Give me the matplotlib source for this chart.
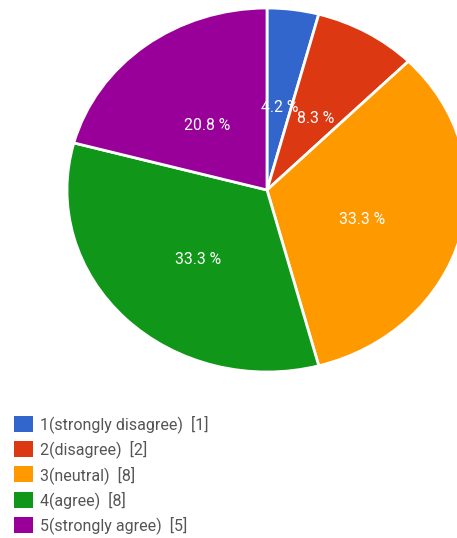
import matplotlib.pyplot as plt

plt.rcParams['font.family'] = ['Roboto', 'DejaVu Sans']

labels = ['1(strongly disagree)', '2(disagree)', '3(neutral)', '4(agree)', '5(strongly agree)']
counts = [1, 2, 8, 8, 5]
colors = ['#3366cc', '#dc3912', '#ff9900', '#109618', '#990099']

W, H = 457, 538
fig = plt.figure(figsize=(W / 100, H / 100), dpi=100)
# pie is slightly stretched horizontally in the reference: centre (267,190), rx 200, ry 182
cx, cy, rx, ry = 267, 190, 200, 182
ax = fig.add_axes([(cx - rx) / W, 1 - (cy + ry) / H, 2 * rx / W, 2 * ry / H])

wedges, texts, autotexts = ax.pie(
    counts, colors=colors, startangle=90, counterclock=False,
    autopct=lambda p: '%.1f %%' % p, pctdistance=0.49,
    wedgeprops=dict(edgecolor='white', linewidth=2),
    textprops=dict(color='white', fontsize=11.3))
# labels sit a little lower in the reference
for t in autotexts:
    x, y = t.get_position()
    t.set_position((x, y - 0.033))
ax.set_xlim(-1, 1)
ax.set_ylim(-1, 1)
ax.set_aspect('auto')

leg_labels = ['%s  [%d]' % (l, c) for l, c in zip(labels, counts)]
leg = fig.legend(wedges, leg_labels, loc='upper left', bbox_to_anchor=(14 / W, 1 - 415 / H),
                 frameon=False, fontsize=11.5, handlelength=1.2, handleheight=1.15,
                 handletextpad=0.45, labelspacing=0.47, labelcolor='#555555',
                 borderpad=0, borderaxespad=0)
for h in leg.legend_handles:
    h.set_edgecolor('none')

fig.savefig('out.png', dpi=100)
